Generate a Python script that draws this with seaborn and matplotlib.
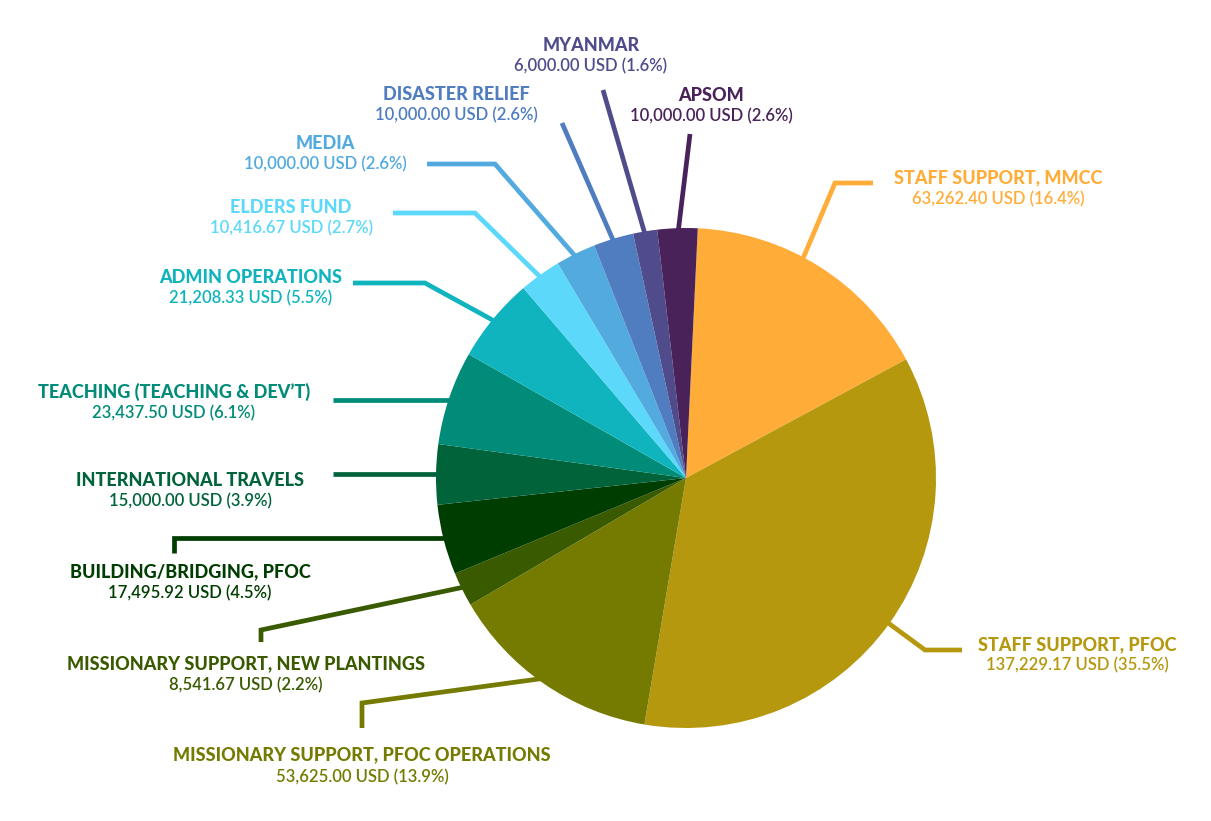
import numpy as np
import matplotlib
matplotlib.use("Agg")
import matplotlib.pyplot as plt
import seaborn as sns

# ---- data ----
categories = [
    "STAFF SUPPORT, MMCC",
    "STAFF SUPPORT, PFOC",
    "MISSIONARY SUPPORT, PFOC OPERATIONS",
    "MISSIONARY SUPPORT, NEW PLANTINGS",
    "BUILDING/BRIDGING, PFOC",
    "INTERNATIONAL TRAVELS",
    "TEACHING (TEACHING & DEV\u2019T)",
    "ADMIN OPERATIONS",
    "ELDERS FUND",
    "MEDIA",
    "DISASTER RELIEF",
    "MYANMAR",
    "APSOM",
]
amounts_usd = [63262.40, 137229.17, 53625.00, 8541.67, 17495.92, 15000.00,
               23437.50, 21208.33, 10416.67, 10000.00, 10000.00, 6000.00, 10000.00]
percent_labels = [16.4, 35.5, 13.9, 2.2, 4.5, 3.9, 6.1, 5.5, 2.7, 2.6, 2.6, 1.6, 2.6]

# ---- styles ----
slice_colors = ["#FFAD38", "#B5980E", "#747B00", "#3A5A00", "#003D00", "#00633A",
                "#008C78", "#10B4BE", "#5CD8FA", "#52AADF", "#4F7DBF", "#504C8C", "#4A225A"]
text_colors = ["#FFAD38", "#B5980E", "#747B00", "#3A5A00", "#003D00", "#00633A",
               "#008C78", "#10B4BE", "#5CD8FA", "#52AADF", "#4F7DBF", "#504C8C", "#4A225A"]

W, H = 1211, 821
CX, CY, R = 686, 478, 250          # image pixel coords
START = 87.3

# label layout in image pixel coords: (center x, title y, value y)
label_pos = [(998, 178, 199), (1077, 645, 665), (362, 755, 777), (246, 664, 685),
             (190, 572, 593), (190, 480, 501), (174, 392, 413), (251, 277, 298),
             (291, 207, 228), (325, 143, 164), (456, 94, 115), (591, 45, 66),
             (711, 95, 116)]
# angular offset (deg) of the leader start relative to the slice mid-angle
leader_shift = [4, 0, 0, 0, 0, 0, 0, 0, 0, 0, 0, 0, 0]
# leader line bends (after the slice point); None in y = keep previous y
leader_pts = [
    [(835, 183), (873, 183)],
    [(925, 650), (962, 650)],
    [(362, 703), (362, 728)],
    [(261, 630), (261, 642)],
    [(174, None), (174, 553)],
    [(333, None)],
    [(333, None)],
    [(425, 283), (353, 283)],
    [(475, 213), (393, 213)],
    [(495, 164), (427, 164)],
    [(562, 123)],
    [(603, 90)],
    [(690, 134)],
]

sns.set_theme(style="white")
plt.rcParams["font.family"] = ["Lato", "DejaVu Sans"]

fig = plt.figure(figsize=(W / 100, H / 100), dpi=100)
ax = fig.add_axes([0, 0, 1, 1])

wedges, _ = ax.pie(amounts_usd, colors=slice_colors, startangle=START, counterclock=False,
                   center=(CX, H - CY), radius=R, wedgeprops=dict(linewidth=0),
                   frame=True)
for w in wedges:
    w.set_zorder(3)
ax.set_xlim(0, W)
ax.set_ylim(0, H)
ax.set_aspect("equal")
ax.axis("off")

for i, w in enumerate(wedges):
    ang = np.deg2rad((w.theta1 + w.theta2) / 2 + leader_shift[i])
    sx = CX + 0.97 * R * np.cos(ang)
    sy = CY - 0.97 * R * np.sin(ang)
    xs, ys = [sx], [sy]
    for (px, py) in leader_pts[i]:
        if py is None:
            py = ys[-1]
        xs.append(px)
        ys.append(py)
    ax.plot(xs, [H - y for y in ys], color=slice_colors[i], lw=3.4,
            solid_capstyle="butt", solid_joinstyle="miter", zorder=2)
    lx, ty, vy = label_pos[i]
    ax.text(lx, H - ty, categories[i], ha="center", va="center", fontsize=13,
            fontweight="black", color=text_colors[i], zorder=4)
    ax.text(lx, H - vy, f"{amounts_usd[i]:,.2f} USD ({percent_labels[i]:.1f}%)",
            ha="center", va="center", fontsize=12, fontweight="semibold",
            color=text_colors[i], zorder=4)

fig.savefig("out.png", dpi=100, facecolor="white")
